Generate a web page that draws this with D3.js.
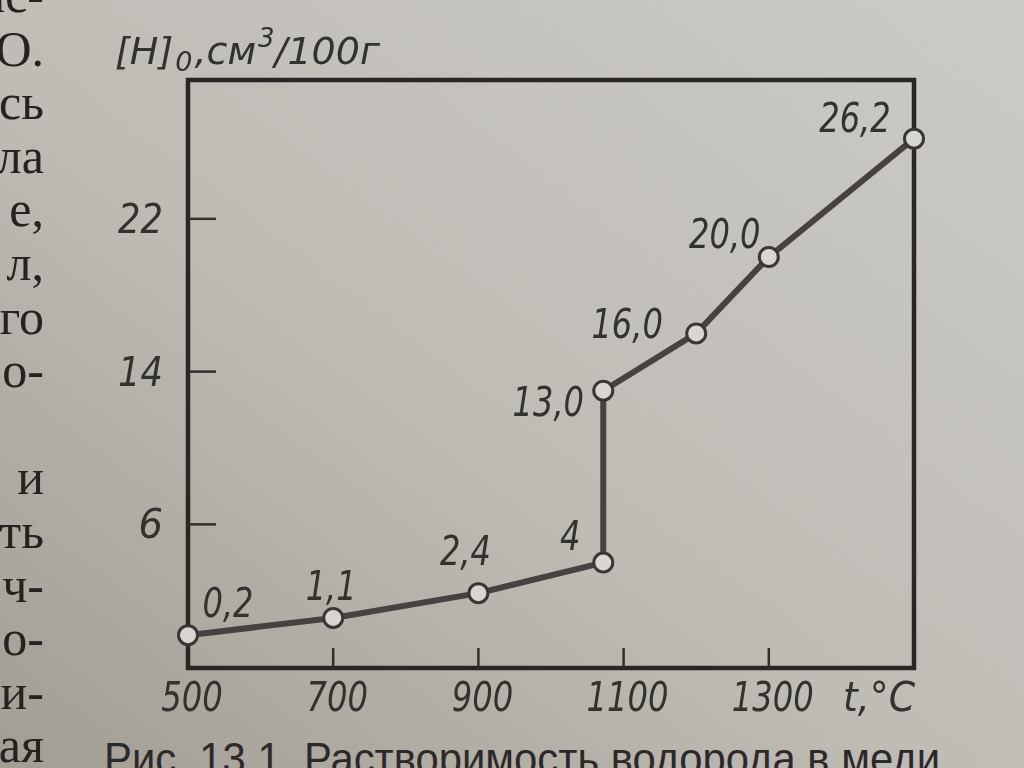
<!DOCTYPE html>
<html>
<head>
<meta charset="utf-8">
<script src="https://cdn.jsdelivr.net/npm/d3@7"></script>
<style>
	html, body { margin: 0; padding: 0; overflow: hidden; background: #bdbab3; }
	svg { display: block; }
	.draft { font-family: "DejaVu Sans", sans-serif; font-style: oblique; fill: #33302f; }
	.book { font-family: "Liberation Serif", "DejaVu Serif", serif; fill: #262020; }
	.caption { font-family: "Liberation Sans Narrow", "Liberation Sans", sans-serif; fill: #2e2929; }
</style>
</head>
<body>
<div id="chart"></div>
<script>
// solubility of hydrogen in copper
const temps = [500, 700, 900, 1072, 1072, 1200, 1300, 1500]
const hydrogen = [0.2, 1.1, 2.4, 4, 13.0, 16.0, 20.0, 26.2]
const pointLabels = ['0,2', '1,1', '2,4', '4', '13,0', '16,0', '20,0', '26,2']
const xTicks = [500, 700, 900, 1100, 1300]
const yTicks = [6, 14, 22]

// book page text around the figure
const pageLines = ['ис-', 'О.', 'сь', 'ла', 'е,', 'л,', 'го', 'о-', '', 'и', 'ть', 'ч-', 'о-', 'и-', 'ая']
const caption = 'Рис. 13.1. Растворимость водорода в меди'

const width = 1024
const height = 768
const frame = { left: 188, right: 914, top: 80, bottom: 668 }

const x = d3.scaleLinear()
	.domain([500, 1500])
	.range([frame.left, frame.right])

const y = d3.scaleLinear()
	.domain([-1.52, 29.27])
	.range([frame.bottom, frame.top])

// the drafting lettering is narrow, squeeze glyphs to that width
const draftWidth = s => String(s).split('').reduce((w, c) => w + (c === ',' ? 10 : 20.5), 0)

const svg = d3.select('#chart')
	.append('svg')
	.attr('width', width)
	.attr('height', height)

const defs = svg.append('defs')

// paper: lighter top right, darker bottom left
const paper = defs.append('linearGradient')
	.attr('id', 'paper')
	.attr('x1', 1).attr('y1', 0)
	.attr('x2', 0).attr('y2', 1)
paper.append('stop').attr('offset', 0).attr('stop-color', '#cfcdc8')
paper.append('stop').attr('offset', 0.55).attr('stop-color', '#c1beb8')
paper.append('stop').attr('offset', 1).attr('stop-color', '#a39e94')

const grain = defs.append('filter').attr('id', 'grain')
grain.append('feTurbulence')
	.attr('type', 'fractalNoise')
	.attr('baseFrequency', 0.9)
	.attr('numOctaves', 2)
	.attr('seed', 3)
grain.append('feColorMatrix')
	.attr('values', '0 0 0 0 0.3  0 0 0 0 0.3  0 0 0 0 0.28  0 0 0 0.5 0')

const soft = defs.append('filter').attr('id', 'soft')
soft.append('feGaussianBlur').attr('stdDeviation', 0.55)

svg.append('rect')
	.attr('width', width)
	.attr('height', height)
	.attr('fill', 'url(#paper)')

svg.append('rect')
	.attr('width', width)
	.attr('height', height)
	.attr('filter', 'url(#grain)')
	.attr('opacity', 0.18)

// left column of the page
svg.append('g')
	.attr('filter', 'url(#soft)')
	.selectAll('text')
	.data(pageLines)
	.enter()
	.append('text')
	.attr('class', 'book')
	.attr('x', 44)
	.attr('y', (d, i) => 12 + i * 53.6)
	.attr('text-anchor', 'end')
	.attr('font-size', 50)
	.text(d => d)

svg.append('text')
	.attr('class', 'caption')
	.attr('x', 104)
	.attr('y', 774)
	.attr('font-size', 44)
	.attr('textLength', 836)
	.attr('lengthAdjust', 'spacingAndGlyphs')
	.text(caption)

const g = svg.append('g')
	.attr('filter', 'url(#soft)')

g.append('rect')
	.attr('x', frame.left)
	.attr('y', frame.top)
	.attr('width', frame.right - frame.left)
	.attr('height', frame.bottom - frame.top)
	.attr('fill', 'none')
	.attr('stroke', '#2c2828')
	.attr('stroke-width', 4.5)

// inward ticks
g.selectAll('line.ytick')
	.data(yTicks)
	.enter()
	.append('line')
	.attr('class', 'ytick')
	.attr('x1', frame.left)
	.attr('x2', frame.left + 28)
	.attr('y1', d => y(d))
	.attr('y2', d => y(d))
	.attr('stroke', '#332f2e')
	.attr('stroke-width', 2.5)

g.selectAll('line.xtick')
	.data(xTicks.slice(1))
	.enter()
	.append('line')
	.attr('class', 'xtick')
	.attr('x1', d => x(d))
	.attr('x2', d => x(d))
	.attr('y1', frame.bottom)
	.attr('y2', frame.bottom - 20)
	.attr('stroke', '#332f2e')
	.attr('stroke-width', 2.5)

g.selectAll('text.ylab')
	.data(yTicks)
	.enter()
	.append('text')
	.attr('class', 'draft ylab')
	.attr('x', 163)
	.attr('y', d => y(d) + 14)
	.attr('text-anchor', 'end')
	.attr('font-size', 40)
	.attr('textLength', d => draftWidth(d) + 4)
	.attr('lengthAdjust', 'spacingAndGlyphs')
	.text(d => d)

g.selectAll('text.xlab')
	.data(xTicks)
	.enter()
	.append('text')
	.attr('class', 'draft xlab')
	.attr('x', d => x(d) + 4)
	.attr('y', 711)
	.attr('text-anchor', 'middle')
	.attr('font-size', 40)
	.attr('textLength', d => draftWidth(d))
	.attr('lengthAdjust', 'spacingAndGlyphs')
	.text(d => d)

g.append('text')
	.attr('class', 'draft')
	.attr('x', 843)
	.attr('y', 711)
	.attr('font-size', 40)
	.attr('textLength', 72)
	.attr('lengthAdjust', 'spacingAndGlyphs')
	.text('t,°C')

// axis title with subscript and superscript
const title = g.append('text')
	.attr('class', 'draft')
	.attr('x', 115)
	.attr('y', 64)
	.attr('font-size', 38)
title.append('tspan').text('[H]')
title.append('tspan').attr('font-size', 27).attr('dx', 2).attr('dy', 7).text('0')
title.append('tspan').attr('dx', 2).attr('dy', -7).text(',см')
title.append('tspan').attr('font-size', 26).attr('dx', 2).attr('dy', -17).text('3')
title.append('tspan').attr('dy', 17).text('/100г')

const points = temps.map((t, i) => ({ t, h: hydrogen[i], label: pointLabels[i] }))

const line = d3.line()
	.x(d => x(d.t))
	.y(d => y(d.h))

g.append('path')
	.datum(points)
	.attr('d', line)
	.attr('fill', 'none')
	.attr('stroke', '#46423f')
	.attr('stroke-width', 6)
	.attr('stroke-linejoin', 'round')

g.selectAll('circle')
	.data(points)
	.enter()
	.append('circle')
	.attr('cx', d => x(d.t))
	.attr('cy', d => y(d.h))
	.attr('r', 9.5)
	.attr('fill', '#d8d6d1')
	.attr('stroke', '#3a3634')
	.attr('stroke-width', 3)

// label placement, hand lettered so it moves around the marker
const labelOffsets = [[40, -18], [-2, -18], [-13, -28], [-33, -13], [-55, 25], [-69, 5], [-44, -9], [-59, -7]]

g.selectAll('text.val')
	.data(points)
	.enter()
	.append('text')
	.attr('class', 'draft val')
	.attr('x', (d, i) => x(d.t) + labelOffsets[i][0])
	.attr('y', (d, i) => y(d.h) + labelOffsets[i][1])
	.attr('text-anchor', 'middle')
	.attr('font-size', 40)
	.attr('textLength', d => draftWidth(d.label))
	.attr('lengthAdjust', 'spacingAndGlyphs')
	.text(d => d.label)
</script>
</body>
</html>
